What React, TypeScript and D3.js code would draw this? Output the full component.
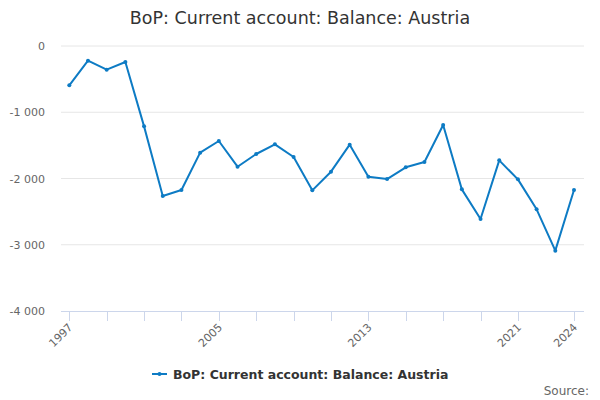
import React from "react";
import * as d3 from "d3";

const years: number[] = [1997,1998,1999,2000,2001,2002,2003,2004,2005,2006,2007,2008,2009,2010,2011,2012,2013,2014,2015,2016,2017,2018,2019,2020,2021,2022,2023,2024];
const values: number[] = [-594,-221,-357,-241,-1213,-2264,-2174,-1610,-1434,-1822,-1630,-1484,-1675,-2179,-1897,-1489,-1972,-2008,-1831,-1751,-1192,-2164,-2611,-1726,-2013,-2465,-3089,-2174];
const yTicks: number[] = [0,-1000,-2000,-3000,-4000];
const xTickYears: number[] = [1997,1999,2001,2003,2005,2007,2009,2011,2013,2015,2017,2019,2021,2024];
const xLabelYears: number[] = [1997,2005,2013,2021,2024];
const title = "BoP: Current account: Balance: Austria";
const seriesName = "BoP: Current account: Balance: Austria";

const W = 600, H = 400;
const plotLeft = 61, plotRight = 584, plotTop = 46, plotBottom = 311;
const color = "#0d7bc4";
const font = "DejaVu Sans, sans-serif";

const fmt = (v: number) => {
  const s = d3.format(",")(v);
  return s.replace(/,/g, " ").replace("−", "-");
};

export default function App() {
  const x = d3.scaleLinear().domain([1997, 2024]).range([69.3, 574]);
  const y = d3.scaleLinear().domain([-4000, 0]).range([plotBottom, plotTop]);
  const line = d3.line<number>().x((_, i) => x(years[i])).y((d) => y(d));
  return (
    <svg width={W} height={H} style={{ position: "absolute", left: 0, top: 0, fontFamily: font }}>
      <rect width={W} height={H} fill="#fff" />
      <text x={W / 2} y={24} textAnchor="middle" fontSize={17.5} fill="#333">{title}</text>
      {yTicks.map((t) => (
        <g key={t}>
          {t !== -4000 && <line x1={plotLeft} x2={plotRight} y1={y(t)} y2={y(t)} stroke="#e6e6e6" strokeWidth={1} />}
          <text x={45} y={y(t) + 4} textAnchor="end" fontSize={11} fill="#666">{fmt(t)}</text>
        </g>
      ))}
      <line x1={plotLeft} x2={plotRight} y1={plotBottom + 0.5} y2={plotBottom + 0.5} stroke="#ccd6eb" strokeWidth={1} />
      {xTickYears.map((yr) => (
        <line key={yr} x1={Math.round(x(yr)) + 0.5} x2={Math.round(x(yr)) + 0.5} y1={plotBottom} y2={plotBottom + 10} stroke="#ccd6eb" strokeWidth={1} />
      ))}
      {xLabelYears.map((yr) => (
        <text key={yr} transform={`translate(${x(yr) + 4},${plotBottom + 17}) rotate(-45)`} textAnchor="end" fontSize={11} fill="#666">{yr}</text>
      ))}
      <path d={line(values) || ""} fill="none" stroke={color} strokeWidth={2} strokeLinejoin="round" />
      {values.map((v, i) => (
        <circle key={i} cx={x(years[i])} cy={y(v)} r={2} fill={color} />
      ))}
      <g>
        <line x1={152} x2={167} y1={374} y2={374} stroke={color} strokeWidth={2} />
        <circle cx={159.5} cy={374} r={2} fill={color} />
        <text x={173} y={378.5} fontSize={12.5} fontWeight="bold" fill="#333">{seriesName}</text>
      </g>
      <text x={589} y={395} textAnchor="end" fontSize={12} fill="#666">Source:</text>
    </svg>
  );
}
